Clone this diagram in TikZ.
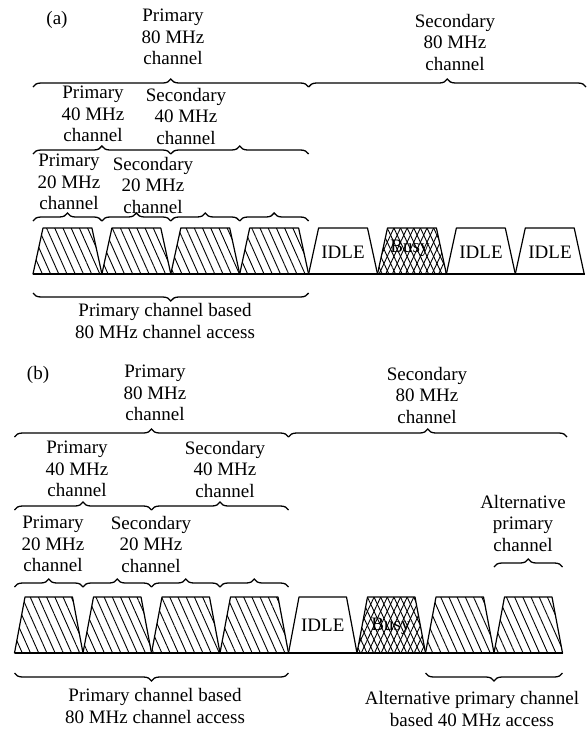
\documentclass[tikz,border=0pt]{standalone}
\usepackage{fontspec}
\setmainfont{Liberation Serif}
\usetikzlibrary{decorations.pathreplacing, patterns.meta}

\begin{document}
\begin{tikzpicture}[
      x=1pt, y=1pt,
      lbl/.style={font=\fontsize{19}{21.5}\selectfont, align=center, inner sep=0pt},
      brc/.style={decorate, decoration={brace, amplitude=8pt}, line width=1.3pt},
      brcdown/.style={decorate, decoration={brace, amplitude=8pt, mirror}, line width=1.3pt},
      slotline/.style={line width=1.2pt, line join=round},
      hatch/.style={slotline, pattern={Lines[angle=-66, distance=7.5pt, line width=0.9pt]}},
      idle/.style={slotline, fill=white},
      busy/.style={slotline, pattern={Lines[angle=-65, distance=6pt, line width=0.9pt]},
                   postaction={pattern={Lines[angle=65, distance=6pt, line width=0.9pt]}}}
  ]
      \useasboundingbox (0,0) rectangle (587,-732);

      % (a) Canais
      \foreach \k [count=\i from 0] in {hatch,hatch,hatch,hatch,idle,busy,idle,idle}
        \draw[\k] ({33+68.9*\i},-274) -- ++(10,46) -- ++(48.9,0) -- ++(10,-46) -- cycle;
      \draw[slotline] (33,-274) -- (585,-274);

      % (a) Chaves
      \draw[brc] (33,-87) -- (308.6,-87);
      \draw[brc] (308.6,-87) -- (586,-87);
      \draw[brc] (33,-154) -- (170.8,-154);
      \draw[brc] (170.8,-154) -- (308.6,-154);
      \foreach \s in {0,1,2,3}
        \draw[brc] ({33+68.9*\s},-221) -- ({33+68.9*(\s+1)},-221);
      \draw[brcdown] (33,-293) -- (308.6,-293);

      % (a) Rótulos
      \node[lbl] (tagA)    at (57,-20)   {(a)};
      \node[lbl] (prim80A) at (173,-37)  {Primary\\80 MHz\\channel};
      \node[lbl] (sec80A)  at (455,-42)  {Secondary\\80 MHz\\channel};
      \node[lbl] (prim40A) at (93,-114)  {Primary\\40 MHz\\channel};
      \node[lbl] (sec40A)  at (186,-116) {Secondary\\40 MHz\\channel};
      \node[lbl] (prim20A) at (69,-182)  {Primary\\20 MHz\\channel};
      \node[lbl] (sec20A)  at (153,-185) {Secondary\\20 MHz\\channel};
      \node[lbl] (idleA1)  at (343,-252) {IDLE};
      \node[lbl] (busyA)   at (410,-248) {Busy};
      \node[lbl] (idleA2)  at (481,-252) {IDLE};
      \node[lbl] (idleA3)  at (550,-252) {IDLE};
      \node[lbl] (accessA) at (165,-321) {Primary channel based\\80 MHz channel access};

      % (b) Canais
      \foreach \k [count=\i from 0] in {hatch,hatch,hatch,hatch,idle,busy,hatch,hatch}
        \draw[\k] ({14.5+68.5*\i},-653) -- ++(10.5,56) -- ++(47.5,0) -- ++(10.5,-56) -- cycle;
      \draw[slotline] (14.5,-653) -- (562.5,-653);

      % (b) Chaves
      \draw[brc] (14.5,-437) -- (288.5,-437);
      \draw[brc] (288.5,-437) -- (567,-437);
      \draw[brc] (14.5,-510) -- (151.5,-510);
      \draw[brc] (151.5,-510) -- (288.5,-510);
      \foreach \s in {0,1,2,3}
        \draw[brc] ({14.5+68.5*\s},-587) -- ({14.5+68.5*(\s+1)},-587);
      \draw[brc] (494,-567) -- (562.5,-567);
      \draw[brcdown] (14.5,-673) -- (288.5,-673);
      \draw[brcdown] (425.5,-673) -- (562.5,-673);

      % (b) Rótulos
      \node[lbl] (tagB)       at (38,-375)  {(b)};
      \node[lbl] (prim80B)    at (155,-393) {Primary\\80 MHz\\channel};
      \node[lbl] (sec80B)     at (427,-395) {Secondary\\80 MHz\\channel};
      \node[lbl] (prim40B)    at (77,-469)  {Primary\\40 MHz\\channel};
      \node[lbl] (sec40B)     at (225,-469) {Secondary\\40 MHz\\channel};
      \node[lbl] (prim20B)    at (53,-544)  {Primary\\20 MHz\\channel};
      \node[lbl] (sec20B)     at (151,-544) {Secondary\\20 MHz\\channel};
      \node[lbl] (altB)       at (523,-523) {Alternative\\primary\\channel};
      \node[lbl] (idleB)      at (322.75,-625) {IDLE};
      \node[lbl] (busyB)      at (391,-626) {Busy};
      \node[lbl] (accessB)    at (155,-706) {Primary channel based\\80 MHz channel access};
      \node[lbl] (altAccessB) at (472,-709) {Alternative primary channel\\based 40 MHz access};
  \end{tikzpicture}
\end{document}
